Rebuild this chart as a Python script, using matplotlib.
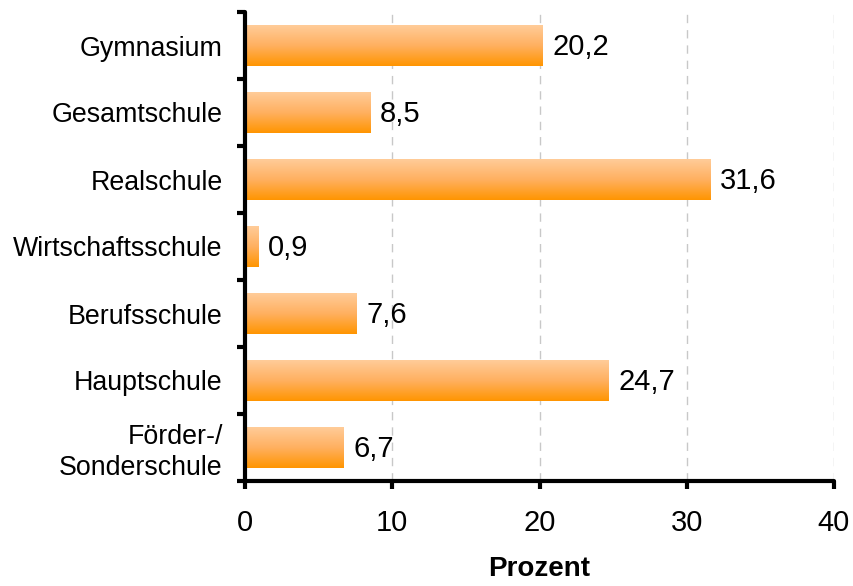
import matplotlib
matplotlib.use("Agg")
import matplotlib.pyplot as plt
import numpy as np
from matplotlib.colors import LinearSegmentedColormap

categories = ["Gymnasium", "Gesamtschule", "Realschule", "Wirtschaftsschule",
              "Berufsschule", "Hauptschule", "Förder-/\nSonderschule"]
values = [20.2, 8.5, 31.6, 0.9, 7.6, 24.7, 6.7]
value_labels = ["20,2", "8,5", "31,6", "0,9", "7,6", "24,7", "6,7"]
xticks = [0, 10, 20, 30, 40]

plt.rcParams['font.family'] = ['Liberation Sans', 'DejaVu Sans']

fig = plt.figure(figsize=(8.54, 5.86), dpi=100)
ax = fig.add_axes([245/854, 1-481/586, (834-245)/854, (481-12)/586])

cmap = LinearSegmentedColormap.from_list("og", ["#FF9500", "#FFB060", "#FFCC99"])
grad = np.linspace(0, 1, 256).reshape(-1, 1)

h = 0.6
ys = np.arange(len(categories))
for y, v, lab in zip(ys, values, value_labels):
    ax.imshow(grad, extent=(0, v, y + h/2, y - h/2), cmap=cmap, aspect='auto',
              origin='lower', zorder=2, interpolation='bilinear')
    ax.annotate(lab, xy=(v, y), xytext=(7, -1), textcoords='offset points',
                va='center', ha='left', fontsize=21, color='black')

ax.set_xlim(0, 40)
ax.set_ylim(len(categories) - 0.5, -0.5)
ax.set_xticks(xticks)
ax.set_xticklabels([str(t) for t in xticks], fontsize=21)
ax.set_yticks(ys)
ax.set_yticklabels(categories, fontsize=19.3, linespacing=1.22)
ax.set_yticks(np.arange(-0.5, len(categories), 1.0), minor=True)
ax.tick_params(axis='y', which='major', length=0, pad=16)
ax.tick_params(axis='y', which='minor', length=6, width=3, direction='out')
ax.tick_params(axis='x', which='major', length=6, width=3, direction='out', pad=14)

for s in ['top', 'right']:
    ax.spines[s].set_visible(False)
for s in ['left', 'bottom']:
    ax.spines[s].set_linewidth(3)
    ax.spines[s].set_capstyle('round')

for t in xticks[1:]:
    ax.axvline(t, color='#c8c8c8', linestyle=(0, (6, 5)), linewidth=1, zorder=1)

ax.set_xlabel("Prozent", fontsize=20, fontweight='bold', labelpad=14)

fig.savefig("out.png", dpi=100)
